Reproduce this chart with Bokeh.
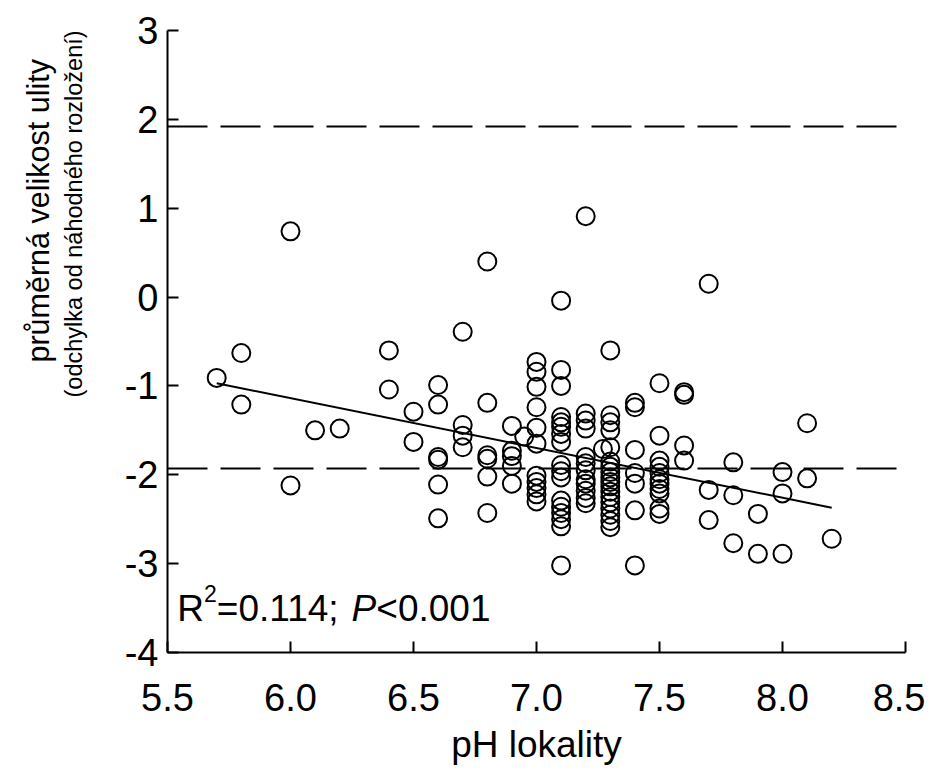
from bokeh.plotting import figure
from bokeh.models import Span, Label, FixedTicker, ColumnDataSource, Title
from bokeh.embed import file_html
from bokeh.resources import INLINE

# ---- data ----
ph = [5.7,
      5.8, 5.8,
      6.0, 6.0,
      6.1, 6.2,
      6.4, 6.4,
      6.5, 6.5,
      6.6, 6.6, 6.6, 6.6, 6.6, 6.6,
      6.7, 6.7, 6.7, 6.7,
      6.8, 6.8, 6.8, 6.8, 6.8, 6.8,
      6.9, 6.9, 6.9, 6.9, 6.9, 6.95,
      7.0, 7.0, 7.0, 7.0, 7.0, 7.0, 7.0, 7.0, 7.0, 7.0, 7.0,
      7.1, 7.1, 7.1, 7.1, 7.1, 7.1, 7.1, 7.1, 7.1, 7.1, 7.1, 7.1, 7.1, 7.1, 7.1, 7.1, 7.1,
      7.2, 7.2, 7.2, 7.2, 7.2, 7.2, 7.2, 7.2, 7.2, 7.2, 7.2, 7.2,
      7.27,
      7.3, 7.3, 7.3, 7.3, 7.3, 7.3, 7.3, 7.3, 7.3, 7.3, 7.3, 7.3, 7.3, 7.3, 7.3, 7.3, 7.3, 7.3,
      7.4, 7.4, 7.4, 7.4, 7.4, 7.4, 7.4,
      7.5, 7.5, 7.5, 7.5, 7.5, 7.5, 7.5, 7.5, 7.5, 7.5, 7.5,
      7.6, 7.6, 7.6, 7.6,
      7.7, 7.7, 7.7,
      7.8, 7.8, 7.8,
      7.9, 7.9,
      8.0, 8.0, 8.0,
      8.1, 8.1,
      8.2]
deviation = [-0.91,
             -0.63, -1.21,
             0.74, -2.12,
             -1.50, -1.48,
             -0.60, -1.04,
             -1.29, -1.63,
             -0.99, -1.21, -1.80, -1.83, -2.11, -2.49,
             -0.39, -1.44, -1.56, -1.69,
             0.40, -1.19, -1.78, -1.82, -2.02, -2.43,
             -1.45, -1.73, -1.79, -1.90, -2.10, -1.57,
             -0.73, -0.84, -1.01, -1.24, -1.47, -1.65, -2.01, -2.08, -2.15, -2.22, -2.30,
             -0.04, -0.82, -1.00, -1.35, -1.41, -1.46, -1.54, -1.63, -1.89, -1.96, -2.03, -2.29, -2.36, -2.43, -2.50, -2.58, -3.02,
             0.91, -1.31, -1.39, -1.48, -1.80, -1.87, -1.95, -2.05, -2.10, -2.18, -2.26, -2.32,
             -1.71,
             -0.60, -1.33, -1.41, -1.50, -1.69, -1.85, -1.91, -1.97, -2.03, -2.08, -2.13, -2.19, -2.25, -2.31, -2.38, -2.45, -2.52, -2.59,
             -1.19, -1.24, -1.72, -1.98, -2.10, -2.40, -3.02,
             -0.97, -1.56, -1.84, -1.91, -1.98, -2.05, -2.10, -2.16, -2.21, -2.38, -2.44,
             -1.07, -1.10, -1.67, -1.84,
             0.15, -2.17, -2.51,
             -1.86, -2.23, -2.77,
             -2.44, -2.89,
             -1.97, -2.21, -2.89,
             -1.42, -2.04,
             -2.72]

fit_x = [5.7, 8.2]
fit_y = [-0.97, -2.37]

limit_upper = 1.92
limit_lower = -1.93

x_ticks = [5.5, 6.0, 6.5, 7.0, 7.5, 8.0, 8.5]
x_tick_labels = ["5.5", "6.0", "6.5", "7.0", "7.5", "8.0", "8.5"]
y_ticks = [-4, -3, -2, -1, 0, 1, 2, 3]
y_tick_labels = ["-4", "-3", "-2", "-1", "0", "1", "2", "3"]

FONT = "Liberation Sans"

p = figure(width=925, height=771, x_range=(5.5, 8.5), y_range=(-4, 3),
           output_backend="svg", toolbar_location=None,
           min_border_left=167, min_border_right=20,
           min_border_top=30, min_border_bottom=119)
p.outline_line_color = None
p.grid.visible = False
p.background_fill_color = "white"

# axes
for ax in (p.xaxis[0], p.yaxis[0]):
    ax.axis_line_width = 2
    ax.axis_line_color = "black"
    ax.major_tick_line_width = 2
    ax.major_tick_line_color = "black"
    ax.major_tick_out = 0
    ax.major_tick_in = 11
    ax.minor_tick_line_color = None
    ax.major_label_text_font = FONT
    ax.major_label_text_font_size = "38px"
    ax.major_label_text_color = "black"

p.xaxis[0].ticker = FixedTicker(ticks=x_ticks)
p.xaxis[0].major_label_overrides = {t: l for t, l in zip(x_ticks, x_tick_labels)}
p.xaxis[0].major_label_standoff = 31
p.xaxis[0].axis_label = "pH lokality"
p.xaxis[0].axis_label_text_font = FONT
p.xaxis[0].axis_label_text_font_size = "37px"
p.xaxis[0].axis_label_text_font_style = "normal"
p.xaxis[0].axis_label_text_color = "black"
p.xaxis[0].axis_label_standoff = 10

p.yaxis[0].ticker = FixedTicker(ticks=y_ticks)
p.yaxis[0].major_label_overrides = {t: l for t, l in zip(y_ticks, y_tick_labels)}
p.yaxis[0].major_label_standoff = 9

# y-axis titles (two lines, different sizes) as side titles
sub_title = Title(text="(odchylka od náhodného rozložení)", align="left", offset=255,
                  text_font=FONT, text_font_size="23.5px", text_font_style="normal",
                  text_color="black", standoff=70)
main_title = Title(text="průměrná velikost ulity", align="left", offset=290,
                   text_font=FONT, text_font_size="30.5px", text_font_style="normal",
                   text_color="black", standoff=-62)
p.add_layout(sub_title, "left")
p.add_layout(main_title, "left")

# dashed limits
for lv in (limit_upper, limit_lower):
    p.add_layout(Span(location=lv, dimension="width", line_color="black",
                      line_width=2, line_dash="40 13"))

# regression line
p.line(fit_x, fit_y, line_color="black", line_width=2)

# points
src = ColumnDataSource(dict(x=ph, y=deviation))
p.scatter("x", "y", source=src, marker="circle", size=18, fill_alpha=0,
          line_color="black", line_width=2)

# statistics annotation
sx, sy = 5.54, -3.50
fs = 37
sup = 23
pieces = [
    ("R", 0, 0, fs, "normal"),
    ("2", 0.722 * fs, 15, sup, "normal"),
    ("=0.114; ", 0.722 * fs + 0.556 * sup, 0, fs, "normal"),
    ("P", 0.722 * fs + 0.556 * sup + 3.642 * fs, 0, fs, "italic"),
    ("<0.001", 0.722 * fs + 0.556 * sup + 3.642 * fs + 0.667 * fs, 0, fs, "normal"),
]
for txt, xo, yo, size, style in pieces:
    p.add_layout(Label(x=sx, y=sy, x_offset=xo, y_offset=yo, text=txt,
                       text_align="left", text_baseline="alphabetic",
                       text_font=FONT, text_font_size=f"{size}px",
                       text_font_style=style, text_color="black"))

open("out.html", "w").write(file_html(p, INLINE))
